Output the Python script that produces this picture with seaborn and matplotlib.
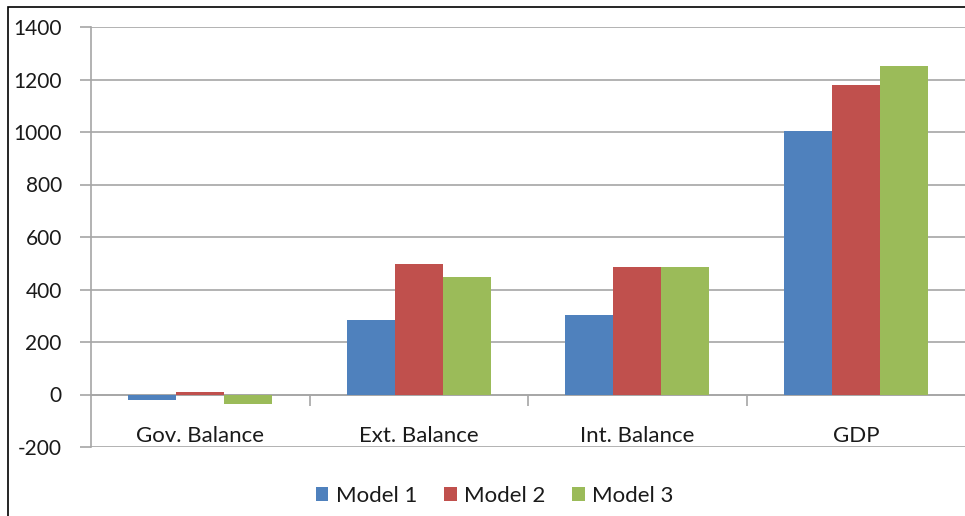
import matplotlib
matplotlib.use("Agg")
import matplotlib.pyplot as plt
from matplotlib.patches import Rectangle
import seaborn as sns
import pandas as pd

categories = ["Gov. Balance", "Ext. Balance", "Int. Balance", "GDP"]
models = ["Model 1", "Model 2", "Model 3"]
model1 = [-20, 285, 302, 1005]
model2 = [10, 498, 484, 1178]
model3 = [-37, 448, 484, 1250]
yticks = [-200, 0, 200, 400, 600, 800, 1000, 1200, 1400]
colors = ["#4F81BD", "#C0504D", "#9BBB59"]

rows = []
for model, vals in zip(models, [model1, model2, model3]):
    for cat, v in zip(categories, vals):
        rows.append({"Category": cat, "Model": model, "Value": v})
df = pd.DataFrame(rows)

sns.set_theme(style="white")
plt.rcParams["font.family"] = ["Lato", "DejaVu Sans"]

fig = plt.figure(figsize=(9.65, 5.16), dpi=100)
ax = fig.add_axes([91 / 965, 1 - 447 / 516, 1 - 91 / 965, (447 - 27) / 516])

sns.barplot(data=df, x="Category", y="Value", hue="Model", palette=colors,
            width=0.66, gap=0, saturation=1, linewidth=0, ax=ax, zorder=3,
            legend=True)

grid_col = "#A6A6A6"
text_col = "#1a1a1a"
ax.set_ylim(-200, 1400)
ax.set_xlim(-0.5, 3.5)
ax.set_yticks(yticks)
ax.set_yticklabels([str(t) for t in yticks], fontsize=15, color=text_col)
ax.yaxis.grid(True, color=grid_col, linewidth=1.2, zorder=0)
ax.set_axisbelow(True)

for s in ["top", "right"]:
    ax.spines[s].set_visible(False)
ax.spines["left"].set_color(grid_col)
ax.spines["left"].set_linewidth(1.2)
ax.spines["bottom"].set_position(("data", 0))
ax.spines["bottom"].set_color(grid_col)
ax.spines["bottom"].set_linewidth(1.2)
ax.spines["bottom"].set_zorder(1)

ax.tick_params(axis="y", direction="out", length=8, width=1.2, color=grid_col,
               pad=13, left=True)
# category separators on the zero axis
ax.set_xticks([0.5, 1.5, 2.5], minor=True)
ax.tick_params(axis="x", which="minor", direction="out", length=8, width=1.2,
               color=grid_col, bottom=True)
ax.tick_params(axis="x", which="major", length=0, labelbottom=False)
for i, cat in enumerate(categories):
    ax.text(i, -158, cat, ha="center", va="center", fontsize=16, color=text_col)

ax.set_xlabel("")
ax.set_ylabel("")

handles, labels = ax.get_legend_handles_labels()
ax.legend_.remove()
fig.legend(handles, labels, loc="center", bbox_to_anchor=(495 / 965, 1 - 496 / 516),
           ncol=3, frameon=False, fontsize=16, handlelength=0.55, handleheight=0.55,
           handletextpad=0.35, columnspacing=1.2, labelcolor=text_col)

fig.patches.append(Rectangle((8 / 965, -0.1), 2, 1.1 - 7 / 516, transform=fig.transFigure,
                             fill=False, edgecolor="black", linewidth=1.2))

fig.savefig("out.png", dpi=100)
